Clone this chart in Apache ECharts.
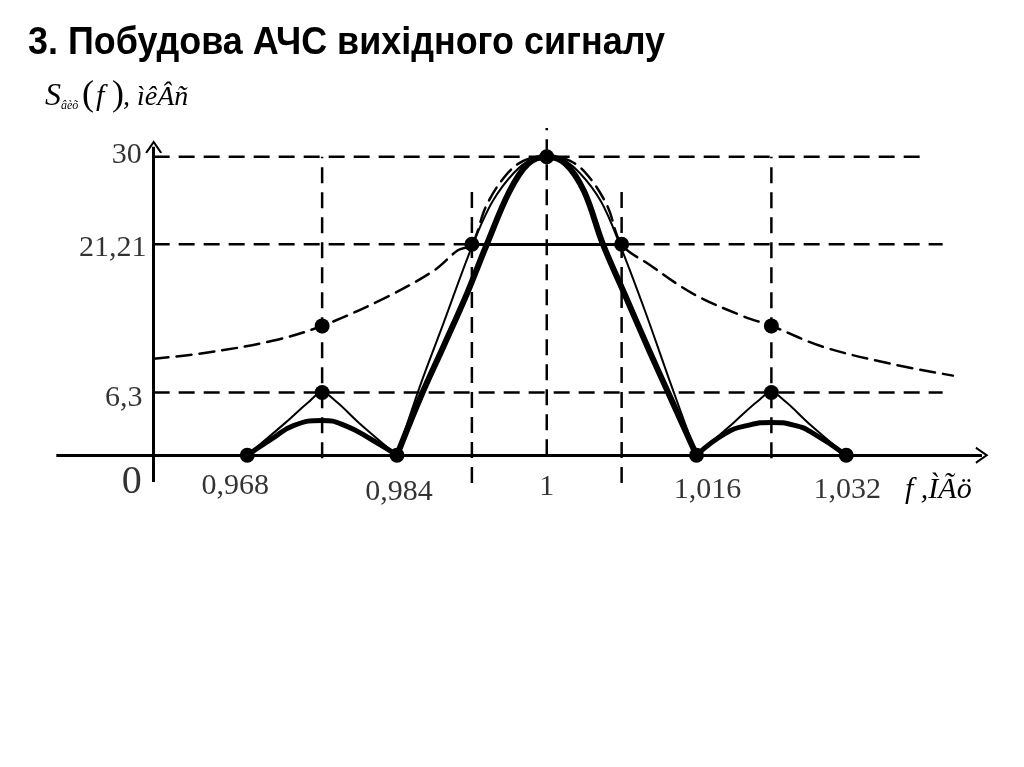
<!DOCTYPE html>
<html>
<head>
<meta charset="utf-8">
<script src="https://cdn.jsdelivr.net/npm/echarts@6/dist/echarts.min.js"></script>
<style>
html,body{margin:0;padding:0;background:#fff;}
#chart{width:1024px;height:767px;}
</style>
</head>
<body>
<div id="chart"></div>
<script>
// ---------- text ----------
const TITLE = '3. Побудова АЧС вихідного сигналу';
const X_NAME = 'f ,ÌÃö';

// ---------- ticks ----------
const fTicks = [0.968, 0.984, 1, 1.016, 1.032];
const fTickLabels = ['0,968', '0,984', '1', '1,016', '1,032'];
const sLevels = [30, 21.21, 6.3];
const sLevelLabels = ['30', '21,21', '6,3'];
const zeroLabel = '0';

// ---------- reference lines ----------
const Y_AXIS_F = 0.958;             // where the S axis crosses the f axis
const levelEndF = [1.0406, 1.0423, 1.0423];
const vLineF = [0.976, 0.992, 1, 1.008, 1.024];
const vLineFrom = [-0.3, -2.8, 0, -2.8, -0.3];
const vLineTo = [30, 27, 32.9, 27, 30];

// ---------- dashed envelope ----------
const envF = [0.958, 0.9636, 0.9707, 0.976, 0.9829, 0.988, 0.9905, 0.992, 0.9935, 0.9955, 0.9975, 1.0,
              1.0025, 1.0045, 1.0065, 1.008, 1.0109, 1.0157, 1.0209, 1.024, 1.0295, 1.0367, 1.0434];
const envS = [9.7, 10.3, 11.5, 13.0, 15.9, 18.6, 20.6, 21.21, 25.0, 28.0, 29.6, 30,
              29.6, 28.0, 25.0, 21.21, 19.2, 16.2, 14.0, 13.0, 10.9, 9.2, 8.0];

// ---------- thin curve ----------
const thinLeftF = [0.968, 0.972, 0.9745, 0.976, 0.9775, 0.980, 0.984];
const thinLeftS = [0, 3.2, 5.3, 6.3, 5.4, 3.2, 0];
const thinMainF = [0.984, 0.9864, 0.9889, 0.9921, 0.9942, 0.9965, 0.9985, 1.0, 1.0015, 1.0035, 1.0058, 1.0078, 1.0105, 1.0132, 1.016];
const thinMainS = [0, 6.8, 13.1, 21.2, 25.5, 28.4, 29.8, 30, 29.8, 28.4, 25.5, 21.2, 14.5, 7.3, 0];
const thinRightF = [1.016, 1.020, 1.0225, 1.024, 1.0255, 1.028, 1.032];
const thinRightS = [0, 3.3, 5.4, 6.3, 5.4, 3.2, 0];

// ---------- thick curve ----------
const thickLeftF = [0.968, 0.9707, 0.973, 0.976, 0.9784, 0.9814, 0.984];
const thickLeftS = [0, 1.7, 3.0, 3.5, 3.0, 1.5, 0];
const thickMainF = [0.984, 0.9865, 0.989, 0.9915, 0.9936, 0.996, 0.998, 1.0, 1.002, 1.004, 1.006, 1.0085, 1.011, 1.0135, 1.016];
const thickMainS = [0, 5.8, 11.0, 16.3, 21.21, 26.5, 29.3, 30, 29.3, 26.5, 21.21, 15.8, 10.4, 5.2, 0];
const thickRightF = [1.016, 1.0191, 1.0215, 1.024, 1.0265, 1.0283, 1.032];
const thickRightS = [0, 2.2, 3.0, 3.3, 3.0, 2.3, 0];

// ---------- marked points ----------
const zeroF = [0.968, 0.984, 1.016, 1.032];
const peakPoint = [1, 30];
const sideLobeF = [0.976, 1.024];
const sideLobeS = 6.3;
const envDotS = 13.0;
const halfF = [0.992, 1.008];
const halfS = 21.21;

// ---------- axis extents ----------
const fAxisRange = [0.9476, 1.0465];
const sAxisRange = [-2.7, 31.0];

// ---------- build ----------
const zip = (a, b) => a.map((v, i) => [v, b[i]]);
const SERIF = '"Liberation Serif", "Times New Roman", serif';
const ARROW = 'path://M0,12 L6,0 L12,12 L10.6,12.8 L6,3.4 L1.4,12.8 Z';

function curve(name, f, s, width, dash, smooth) {
  return {
    type: 'line', name, data: zip(f, s), showSymbol: false, smooth: smooth,
    silent: true, z: 3,
    lineStyle: { color: '#000', width: width, type: dash || 'solid', cap: 'round', join: 'round' }
  };
}
function seg(p1, p2, width, dash, z) {
  return {
    type: 'line', data: [p1, p2], showSymbol: false, silent: true, z: z || 2,
    lineStyle: { color: '#000', width: width, type: dash || 'solid' }
  };
}

const series = [];
sLevels.forEach((lv, i) => series.push(seg([Y_AXIS_F, lv], [levelEndF[i], lv], 2.5, [16, 9])));
vLineF.forEach((f, i) => series.push(seg([f, vLineFrom[i]], [f, vLineTo[i]], 2.5, [16, 9])));
series.push(curve('envelope', envF, envS, 2.5, [15, 8], 0.35));
series.push(curve('thinL', thinLeftF, thinLeftS, 2, null, 0.4));
series.push(curve('thinM', thinMainF, thinMainS, 2, null, 0.35));
series.push(curve('thinR', thinRightF, thinRightS, 2, null, 0.4));
series.push(curve('thickL', thickLeftF, thickLeftS, 5, null, 0.5));
series.push(curve('thickM', thickMainF, thickMainS, 6, null, 0.35));
series.push(curve('thickR', thickRightF, thickRightS, 5, null, 0.5));

series.push({
  type: 'line', data: [], silent: true, z: 7,
  markLine: {
    silent: true, animation: false,
    label: { show: false },
    data: [
      [{ coord: [fAxisRange[0], 0], symbol: 'none' },
       { coord: [fAxisRange[1], 0], symbol: ARROW, symbolSize: [17, 13] }],
      [{ coord: [Y_AXIS_F, sAxisRange[0]], symbol: 'none' },
       { coord: [Y_AXIS_F, sAxisRange[1]], symbol: ARROW, symbolSize: [17, 13] }],
      [{ coord: [halfF[0], halfS], symbol: ARROW, symbolSize: [10, 8] },
       { coord: [halfF[1], halfS], symbol: ARROW, symbolSize: [10, 8] }]
    ],
    lineStyle: { color: '#000', width: 3, type: 'solid' },
    emphasis: { disabled: true }
  }
});

const dots = []
  .concat(zeroF.map(f => [f, 0]))
  .concat([peakPoint])
  .concat(sideLobeF.map(f => [f, sideLobeS]))
  .concat(sideLobeF.map(f => [f, envDotS]))
  .concat(halfF.map(f => [f, halfS]));
series.push({
  type: 'scatter', data: dots, symbol: 'circle', symbolSize: 15, silent: true, z: 6,
  itemStyle: { color: '#000', opacity: 1 }
});

const xLabelOffsets = [[-12, 31], [2, 37], [0, 32], [11, 35], [1, 35]];
series.push({
  type: 'scatter', symbolSize: 0, silent: true, z: 8,
  data: fTicks.map((f, i) => ({
    value: [f, 0],
    label: { show: true, position: 'inside', formatter: fTickLabels[i], offset: xLabelOffsets[i],
             fontFamily: SERIF, fontSize: 30, color: '#000' }
  }))
});
const yLabelOffsets = [[-27, -2], [-41, 4], [-30, 6]];
series.push({
  type: 'scatter', symbolSize: 0, silent: true, z: 8,
  data: sLevels.map((lv, i) => ({
    value: [Y_AXIS_F, lv],
    label: { show: true, position: 'inside', formatter: sLevelLabels[i], offset: yLabelOffsets[i],
             fontFamily: SERIF, fontSize: 30, color: '#000' }
  })).concat([{
    value: [Y_AXIS_F, 0],
    label: { show: true, position: 'inside', formatter: zeroLabel, offset: [-22, 27],
             fontFamily: SERIF, fontSize: 40, color: '#000' }
  }])
});

const mctx = document.createElement('canvas').getContext('2d');
const TITLE_FONT = 'bold 39px "Liberation Sans", Arial, sans-serif';
mctx.font = TITLE_FONT;
const titleW = mctx.measureText(TITLE).width;
const titleScale = 637 / titleW;

const chart = echarts.init(document.getElementById('chart'), null, { renderer: 'canvas' });
chart.setOption({
  animation: false,
  backgroundColor: '#fff',
  grid: { left: 32, width: 964, top: 117, height: 378, containLabel: false },
  xAxis: { type: 'value', min: 0.945, max: 1.048, show: false },
  yAxis: { type: 'value', min: -4, max: 34, show: false },
  graphic: [
    { type: 'text', x: 28, y: 43, scaleX: titleScale,
      style: { text: TITLE, font: TITLE_FONT, fill: '#000',
               textVerticalAlign: 'middle', textAlign: 'left' } },
    { type: 'text', x: 45, y: 97,
      style: { text: 'S', font: 'italic 32px ' + SERIF, fill: '#000', textVerticalAlign: 'middle' } },
    { type: 'text', x: 61, y: 106,
      style: { text: 'âèõ', font: 'italic 12px ' + SERIF, fill: '#000', textVerticalAlign: 'middle' } },
    { type: 'text', x: 82, y: 96,
      style: { text: '(', font: '36px ' + SERIF, fill: '#000', textVerticalAlign: 'middle' } },
    { type: 'text', x: 96, y: 97,
      style: { text: 'f', font: 'italic 30px ' + SERIF, fill: '#000', textVerticalAlign: 'middle' } },
    { type: 'text', x: 112, y: 96,
      style: { text: ')', font: '36px ' + SERIF, fill: '#000', textVerticalAlign: 'middle' } },
    { type: 'text', x: 123, y: 98,
      style: { text: ', ìêÂñ', font: 'italic 28px ' + SERIF, fill: '#000', textVerticalAlign: 'middle' } },
    { type: 'text', x: 905, y: 490,
      style: { text: X_NAME, font: 'italic 30px ' + SERIF, fill: '#000', textVerticalAlign: 'middle' } }
  ],
  series: series
});
</script>
</body>
</html>
